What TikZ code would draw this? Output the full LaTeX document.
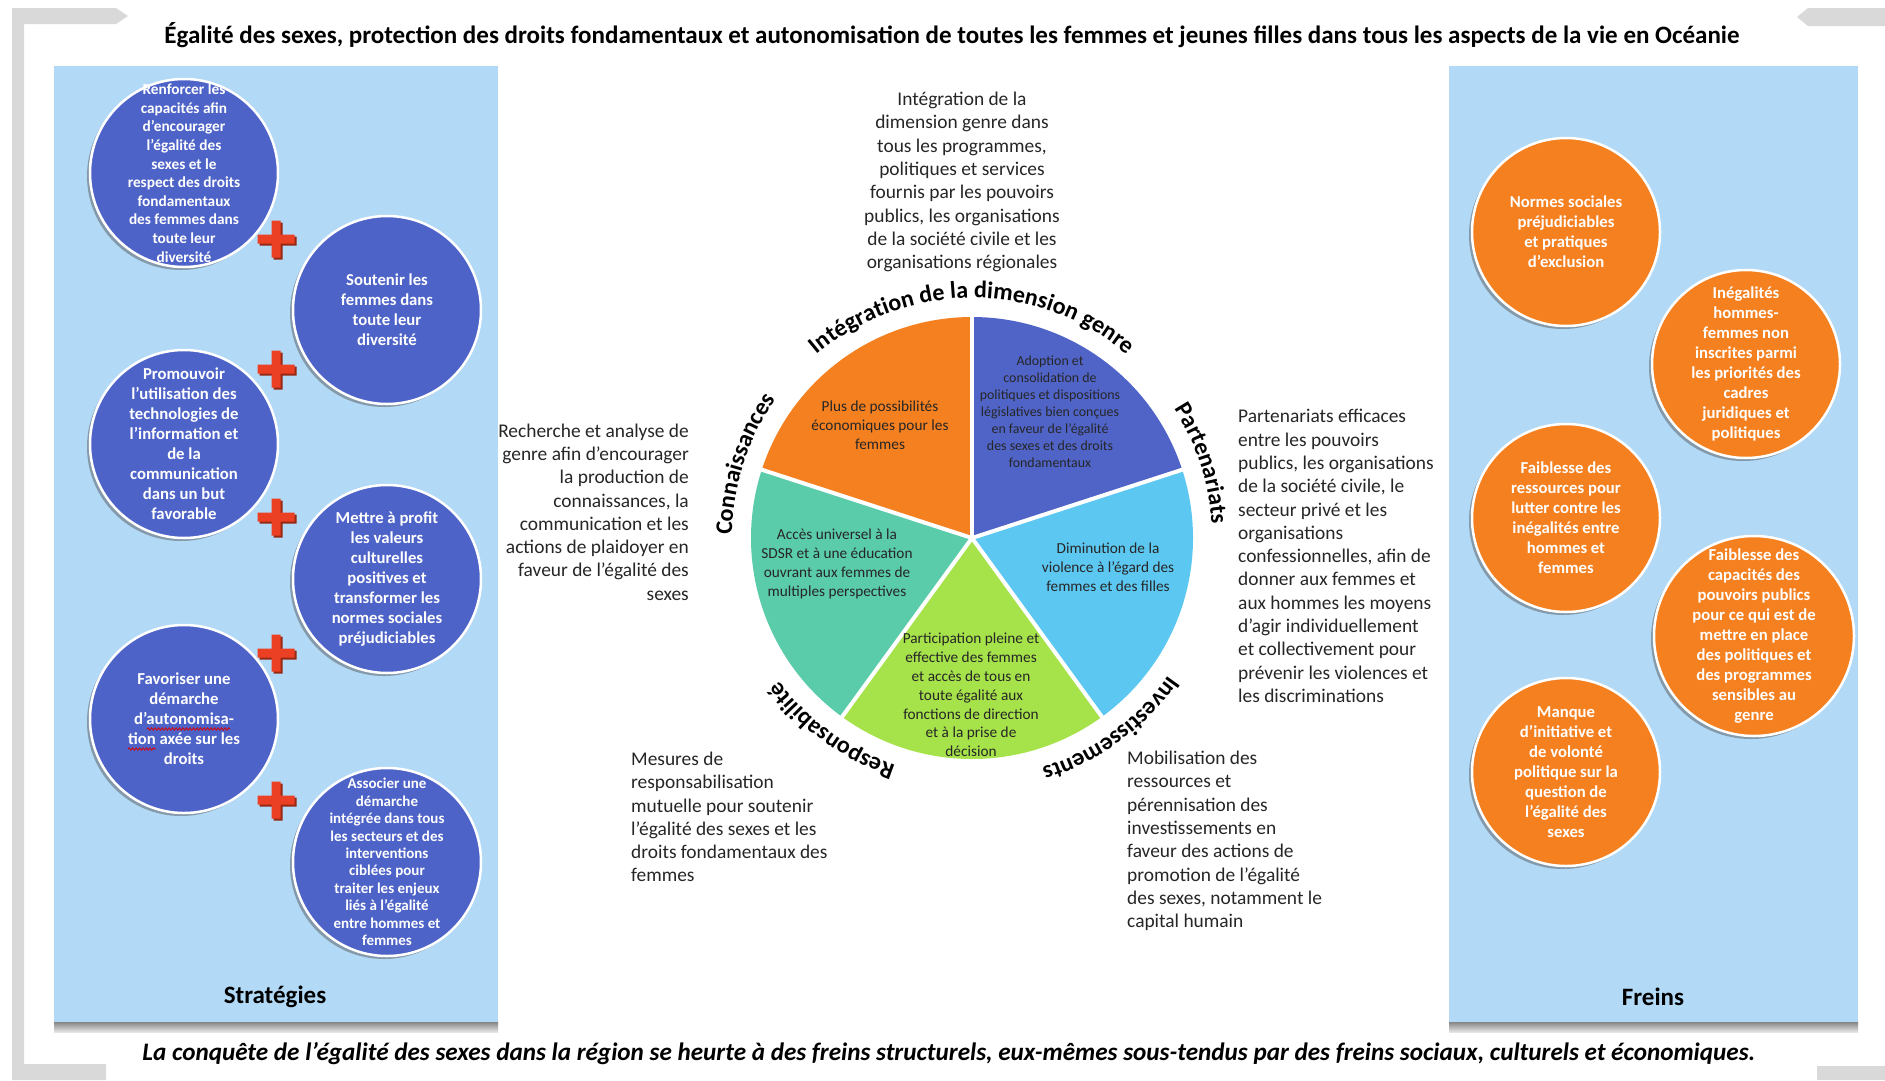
\documentclass[tikz,border=0pt]{standalone}
\usepackage{fontspec}
\usepackage{graphicx}
\setmainfont{Carlito}
\usetikzlibrary{shadows,decorations.text,decorations.pathmorphing}
\definecolor{panelblue}{RGB}{178,217,246}
\definecolor{circblue}{RGB}{78,99,199}
\definecolor{circorange}{RGB}{245,128,32}
\definecolor{pieorange}{RGB}{245,128,32}
\definecolor{pieblue}{RGB}{80,100,200}
\definecolor{pielight}{RGB}{92,200,242}
\definecolor{piegreen}{RGB}{166,226,74}
\definecolor{pieteal}{RGB}{90,204,170}
\definecolor{plusred}{RGB}{236,64,36}
\definecolor{plusdark}{RGB}{150,40,20}
\definecolor{framegrey}{RGB}{217,217,217}
\definecolor{bodytext}{RGB}{38,38,38}
\newcommand\lblfont{\bfseries\fontsize{24}{24}\selectfont}
\begin{document}
\begin{tikzpicture}[x=1pt,y=-1pt,
  panel/.style={fill=panelblue},
  bluecirc/.style={circle, fill=circblue, draw=white, line width=2.5pt, minimum size=188pt, inner sep=0pt,
    drop shadow={shadow xshift=-3pt, shadow yshift=-3pt, opacity=0.45, fill=black!70}},
  orangecirc/.style={bluecirc, fill=circorange},
  ctxt/.style={text=white, font=\bfseries\fontsize{16.7}{20}\selectfont, align=center, inner sep=0pt},
  ctxtsmall/.style={ctxt, font=\bfseries\fontsize{15.3}{18.6}\selectfont},
  ctxttiny/.style={ctxt, font=\bfseries\fontsize{15}{17.4}\selectfont},
  body/.style={text=bodytext, font=\fontsize{19.4}{23.3}\selectfont, inner sep=0pt},
  pietxt/.style={text=black!85, font=\fontsize{15.3}{18.8}\selectfont, align=center, inner sep=0pt},
  pietxtsmall/.style={pietxt, font=\fontsize{13.9}{17}\selectfont},
  paneltitle/.style={text=black, font=\bfseries\fontsize{25}{30}\selectfont, inner sep=0pt},
  squiggle/.style={red!85!black, line width=0.8pt, decorate, decoration={snake, amplitude=1.2pt, segment length=3.5pt}},
  plusmark/.pic={
    \fill[plusdark] (-16.5,-2.5) rectangle (20.5,6.5) (-2.5,-16.5) rectangle (6.5,20.5);
    \fill[plusred] (-18.5,-4.5) rectangle (18.5,4.5) (-4.5,-18.5) rectangle (4.5,18.5);
  }
]
\useasboundingbox (0,0) rectangle (1885,1080);
\fill[white] (0,0) rectangle (1885,1080);

% frame
\fill[framegrey] (12,8) -- (116,8) -- (128,16) -- (116,24) -- (24,24) -- (24,1064) -- (106,1064) -- (106,1080) -- (12,1080) -- cycle;
\fill[framegrey] (1885,8) -- (1808,8) -- (1797,17) -- (1808,26) -- (1885,26) -- cycle;
\fill[framegrey] (1817,1066) rectangle (1885,1080);

% title
\node[inner sep=0pt] (title) at (952,35) {\resizebox{1575pt}{!}{\bfseries\fontsize{22}{26}\selectfont Égalité des sexes, protection des droits fondamentaux et autonomisation de toutes les femmes et jeunes filles dans tous les aspects de la vie en Océanie}};

% panels
\shade[top color=black!55, bottom color=black!10] (54,1020) rectangle (498,1032);
\shade[top color=black!55, bottom color=black!10] (1449,1020) rectangle (1858,1032);
\fill[panel] (54,66) rectangle (498,1022);
\fill[panel] (1449,66) rectangle (1858,1022);
\node[paneltitle] (strat) at (275,997) {Stratégies};
\node[paneltitle] (freins) at (1653,997) {Freins};

% left circles
\node[bluecirc] (s1) at (184,173) {};
\node[bluecirc] (s2) at (387,310) {};
\node[bluecirc] (s3) at (184,444) {};
\node[bluecirc] (s4) at (387,579) {};
\node[bluecirc] (s5) at (184,719) {};
\node[bluecirc] (s6) at (387,862) {};
\node[ctxtsmall] (s1t) at (s1.center) {Renforcer les\\capacités afin\\d’encourager\\l’égalité des\\sexes et le\\respect des droits\\fondamentaux\\des femmes dans\\toute leur\\diversité};
\node[ctxt] (s2t) at (s2.center) {Soutenir les\\femmes dans\\toute leur\\diversité};
\node[ctxt] (s3t) at (s3.center) {Promouvoir\\l’utilisation des\\technologies de\\l’information et\\de la\\communication\\dans un but\\favorable};
\node[ctxt] (s4t) at (s4.center) {Mettre à profit\\les valeurs\\culturelles\\positives et\\transformer les\\normes sociales\\préjudiciables};
\node[ctxt] (s5t) at (s5.center) {Favoriser une\\démarche\\d’autonomisa-\\tion axée sur les\\droits};
\coordinate (sq1a) at (147,729);
\coordinate (sq1b) at (230,729);
\coordinate (sq2a) at (128,749);
\coordinate (sq2b) at (156,749);
\draw[squiggle] (sq1a) -- (sq1b);
\draw[squiggle] (sq2a) -- (sq2b);
\node[ctxttiny] (s6t) at (s6.center) {Associer une\\démarche\\intégrée dans tous\\les secteurs et des\\interventions\\ciblées pour\\traiter les enjeux\\liés à l’égalité\\entre hommes et\\femmes};
\pic at (276,239) {plusmark};
\pic at (276,369) {plusmark};
\pic at (276,517) {plusmark};
\pic at (276,653) {plusmark};
\pic at (276,800) {plusmark};

% right circles
\node[orangecirc] (f1) at (1566,232) {};
\node[orangecirc] (f2) at (1746,364) {};
\node[orangecirc] (f3) at (1566,518) {};
\node[orangecirc, minimum size=200pt] (f4) at (1754,636) {};
\node[orangecirc] (f5) at (1566,772) {};
\node[ctxt] (f1t) at (f1.center) {Normes sociales\\préjudiciables\\et pratiques\\d’exclusion};
\node[ctxt] (f2t) at (f2.center) {Inégalités\\hommes-\\femmes non\\inscrites parmi\\les priorités des\\cadres\\juridiques et\\politiques};
\node[ctxt] (f3t) at (f3.center) {Faiblesse des\\ressources pour\\lutter contre les\\inégalités entre\\hommes et\\femmes};
\node[ctxt] (f4t) at (f4.center) {Faiblesse des\\capacités des\\pouvoirs publics\\pour ce qui est de\\mettre en place\\des politiques et\\des programmes\\sensibles au\\genre};
\node[ctxt] (f5t) at (f5.center) {Manque\\d’initiative et\\de volonté\\politique sur la\\question de\\l’égalité des\\sexes};

% central pie
\begin{scope}[shift={(972,538)}, y=1pt]
  \fill[pieorange] (0,0) -- (90:221) arc[start angle=90, end angle=162, radius=221] -- cycle;
  \fill[pieblue] (0,0) -- (18:221) arc[start angle=18, end angle=90, radius=221] -- cycle;
  \fill[pielight] (0,0) -- (-54:221) arc[start angle=-54, end angle=18, radius=221] -- cycle;
  \fill[piegreen] (0,0) -- (-126:221) arc[start angle=-126, end angle=-54, radius=221] -- cycle;
  \fill[pieteal] (0,0) -- (162:221) arc[start angle=162, end angle=234, radius=221] -- cycle;
  \foreach \a in {90,18,-54,-126,162} \draw[white, line width=4pt] (0,0) -- (\a:223);
  \path[decorate, decoration={text along path, text align=center,
      text={|\lblfont|Intégration de la dimension genre}}]
      (170:240) arc[start angle=170, end angle=10, radius=240];
  \path[decorate, decoration={text along path, text align=center,
      text={|\lblfont|Partenariats}}]
      (78:240) arc[start angle=78, end angle=-42, radius=240];
  \path[decorate, decoration={text along path, text align=center,
      text={|\lblfont|Investissements}}]
      (6:240) arc[start angle=6, end angle=-114, radius=240];
  \path[decorate, decoration={text along path, text align=center,
      text={|\lblfont|Responsabilité}}]
      (-66:240) arc[start angle=-66, end angle=-186, radius=240];
  \path[decorate, decoration={text along path, text align=center,
      text={|\lblfont|Connaissances}}]
      (222:240) arc[start angle=222, end angle=102, radius=240];
\end{scope}
\node[pietxt] (p1) at (880,425) {Plus de possibilités\\économiques pour les\\femmes};
\node[pietxtsmall] (p2) at (1050,412) {Adoption et\\consolidation de\\politiques et dispositions\\législatives bien conçues\\en faveur de l’égalité\\des sexes et des droits\\fondamentaux};
\node[pietxt] (p3) at (1108,567) {Diminution de la\\violence à l’égard des\\femmes et des filles};
\node[pietxt] (p4) at (837,564) {Accès universel à la\\SDSR et à une éducation\\ouvrant aux femmes de\\multiples perspectives};
\node[pietxt] (p5) at (971,695) {Participation pleine et\\effective des femmes\\et accès de tous en\\toute égalité aux\\fonctions de direction\\et à la prise de\\décision};

% surrounding texts
\node[body, align=center] (t1) at (962,182) {Intégration de la\\dimension genre dans\\tous les programmes,\\politiques et services\\fournis par les pouvoirs\\publics, les organisations\\de la société civile et les\\organisations régionales};
\node[body, align=right, anchor=east] (t2) at (689,512) {Recherche et analyse de\\genre afin d’encourager\\la production de\\connaissances, la\\communication et les\\actions de plaidoyer en\\faveur de l’égalité des\\sexes};
\node[body, align=left, anchor=west] (t3) at (1238,556) {Partenariats efficaces\\entre les pouvoirs\\publics, les organisations\\de la société civile, le\\secteur privé et les\\organisations\\confessionnelles, afin de\\donner aux femmes et\\aux hommes les moyens\\d’agir individuellement\\et collectivement pour\\prévenir les violences et\\les discriminations};
\node[body, align=left, anchor=west] (t4) at (631,817) {Mesures de\\responsabilisation\\mutuelle pour soutenir\\l’égalité des sexes et les\\droits fondamentaux des\\femmes};
\node[body, align=left, anchor=west] (t5) at (1127,841) {Mobilisation des\\ressources et\\pérennisation des\\investissements en\\faveur des actions de\\promotion de l’égalité\\des sexes, notamment le\\capital humain};

% caption
\node[inner sep=0pt] (caption) at (949,1054) {\resizebox{1613pt}{!}{\bfseries\itshape\fontsize{22}{26}\selectfont La conquête de l’égalité des sexes dans la région se heurte à des freins structurels, eux-mêmes sous-tendus par des freins sociaux, culturels et économiques.}};
\end{tikzpicture}
\end{document}
